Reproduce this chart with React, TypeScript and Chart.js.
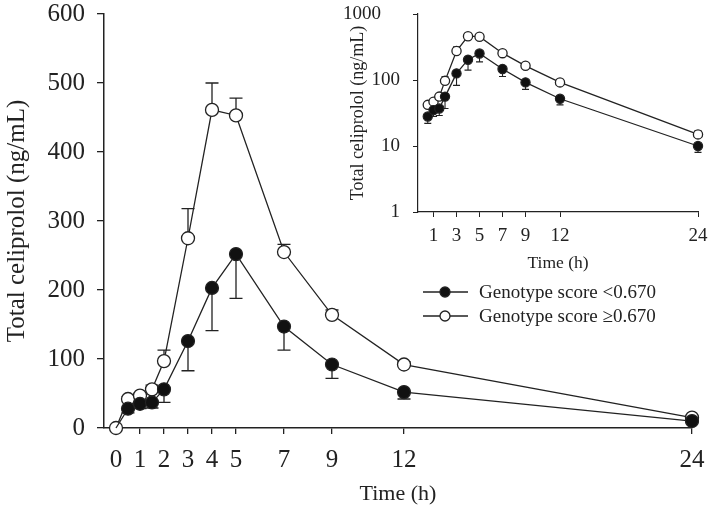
import React, { useEffect, useRef } from 'react';
import { Chart, registerables } from 'chart.js';

Chart.register(...registerables);

// ---- data ----
const times = [0, 0.5, 1, 1.5, 2, 3, 4, 5, 7, 9, 12, 24];
const lowScore = [0, 28, 35, 37, 56, 126, 203, 252, 147, 92, 52, 10];
const lowScoreLower = [0, 22, 28, 29, 37, 83, 141, 188, 113, 72, 42, 8];
const highScore = [0, 42, 47, 56, 97, 275, 461, 453, 255, 164, 92, 15];
const highScoreUpper = [0, 45, 50, 62, 113, 318, 500, 478, 266, 171, 96, 17];

const mainXTicks = [0, 1, 2, 3, 4, 5, 7, 9, 12, 24];
const mainYTicks = [0, 100, 200, 300, 400, 500, 600];
const insetXTicks = [1, 3, 5, 7, 9, 12, 24];
const insetYTicks = [1, 10, 100, 1000];
const seriesLabels = ['Genotype score <0.670', 'Genotype score \u22650.670'];
const xTitle = 'Time (h)';
const yTitle = 'Total celiprolol (ng/mL)';

const FONT = "'Liberation Serif', 'Times New Roman', serif";
const INK = '#222222';

function pts(vals: number[], skipZeroTime: boolean) {
  const out: { x: number; y: number }[] = [];
  times.forEach((t, i) => {
    if (skipZeroTime && t === 0) return;
    out.push({ x: t, y: vals[i] });
  });
  return out;
}
function bounds(vals: number[], skipZeroTime: boolean) {
  const out: number[] = [];
  times.forEach((t, i) => {
    if (skipZeroTime && t === 0) return;
    out.push(vals[i]);
  });
  return out;
}

function errorBarPlugin(cap: number, lw: number) {
  return {
    id: 'errbars',
    beforeDatasetsDraw(chart: any) {
      const ctx = chart.ctx;
      const xs = chart.scales.x;
      const ys = chart.scales.y;
      ctx.save();
      ctx.strokeStyle = INK;
      ctx.lineWidth = lw;
      chart.data.datasets.forEach((ds: any) => {
        (ds.data as any[]).forEach((p: any, i: number) => {
          const b = ds.errBound ? ds.errBound[i] : null;
          if (b == null || b === p.y) return;
          const x = xs.getPixelForValue(p.x);
          const y0 = ys.getPixelForValue(p.y);
          const y1 = ys.getPixelForValue(b);
          ctx.beginPath();
          ctx.moveTo(x, y0);
          ctx.lineTo(x, y1);
          ctx.moveTo(x - cap, y1);
          ctx.lineTo(x + cap, y1);
          ctx.stroke();
        });
      });
      ctx.restore();
    },
  };
}

const legendPlugin = {
  id: 'customLegend',
  afterDraw(chart: any) {
    const ctx = chart.ctx;
    const rows = [292, 316];
    ctx.save();
    chart.data.datasets.forEach((ds: any, i: number) => {
      const y = rows[i];
      ctx.strokeStyle = INK;
      ctx.lineWidth = 1.3;
      ctx.beginPath();
      ctx.moveTo(423, y);
      ctx.lineTo(468, y);
      ctx.stroke();
      ctx.beginPath();
      ctx.arc(445, y, 5, 0, Math.PI * 2);
      ctx.fillStyle = ds.pointBackgroundColor;
      ctx.fill();
      ctx.stroke();
      ctx.fillStyle = INK;
      ctx.font = `19px ${FONT}`;
      ctx.textBaseline = 'middle';
      ctx.textAlign = 'left';
      ctx.fillText(ds.label, 479, y + 1);
    });
    ctx.restore();
  },
};

function makeDatasets(skipZero: boolean, radius: number) {
  return [
    {
      label: seriesLabels[0],
      data: pts(lowScore, skipZero),
      errBound: bounds(lowScoreLower, skipZero),
      borderColor: INK,
      borderWidth: 1.3,
      pointBackgroundColor: '#111111',
      pointBorderColor: INK,
      pointBorderWidth: 1.2,
      pointRadius: (c: any) => (!skipZero && c.dataIndex === 0 ? 0 : radius),
      showLine: true,
      tension: 0,
      clip: false,
    },
    {
      label: seriesLabels[1],
      data: pts(highScore, skipZero),
      errBound: bounds(highScoreUpper, skipZero),
      borderColor: INK,
      borderWidth: 1.3,
      pointBackgroundColor: '#ffffff',
      pointBorderColor: INK,
      pointBorderWidth: 1.3,
      pointRadius: radius,
      showLine: true,
      tension: 0,
      clip: false,
    },
  ];
}

const zeroPad = (s: any) => {
  s.paddingLeft = 0;
  s.paddingRight = 0;
  s.paddingTop = 0;
  s.paddingBottom = 0;
};

export default function App() {
  const mainRef = useRef<HTMLCanvasElement | null>(null);
  const insetRef = useRef<HTMLCanvasElement | null>(null);

  useEffect(() => {
    const main = new Chart(mainRef.current as HTMLCanvasElement, {
      type: 'line',
      data: { datasets: makeDatasets(false, 6.5) as any },
      options: {
        animation: false,
        responsive: false,
        devicePixelRatio: 1,
        layout: { padding: { top: 14, right: 17, left: 0, bottom: 0 } },
        plugins: { legend: { display: false }, tooltip: { enabled: false } },
        scales: {
          x: {
            type: 'linear',
            min: -0.5,
            max: 24,
            afterBuildTicks: (s: any) => {
              s.ticks = mainXTicks.map((v) => ({ value: v }));
            },
            ticks: {
              font: { family: FONT, size: 25 },
              color: INK,
              padding: 11,
              maxRotation: 0,
              autoSkip: false,
              callback: (v: any) => String(v),
            },
            grid: { drawOnChartArea: false, drawTicks: true, tickLength: 6, color: INK, lineWidth: 1.3 },
            border: { display: true, color: INK, width: 1.5 },
            title: { display: true, text: xTitle, font: { family: FONT, size: 22 }, color: INK, padding: { top: 0, bottom: 1 } },
            afterFit: (s: any) => {
              s.height = 80;
              zeroPad(s);
            },
          },
          y: {
            type: 'linear',
            min: 0,
            max: 600,
            afterBuildTicks: (s: any) => {
              s.ticks = mainYTicks.map((v) => ({ value: v }));
            },
            ticks: { font: { family: FONT, size: 25 }, color: INK, padding: 12, callback: (v: any) => String(v) },
            grid: { drawOnChartArea: false, drawTicks: true, tickLength: 7, color: INK, lineWidth: 1.3 },
            border: { display: true, color: INK, width: 1.5 },
            title: { display: true, text: yTitle, font: { family: FONT, size: 25 }, color: INK, padding: { top: 2, bottom: 0 } },
            afterFit: (s: any) => {
              s.width = 104;
              zeroPad(s);
            },
          },
        },
      } as any,
      plugins: [errorBarPlugin(6.5, 1.3), legendPlugin],
    });

    const inset = new Chart(insetRef.current as HTMLCanvasElement, {
      type: 'line',
      data: { datasets: makeDatasets(true, 4.6) as any },
      options: {
        animation: false,
        responsive: false,
        devicePixelRatio: 1,
        layout: { padding: { top: 14, right: 11, left: 0, bottom: 0 } },
        plugins: { legend: { display: false }, tooltip: { enabled: false } },
        scales: {
          x: {
            type: 'linear',
            min: -0.35,
            max: 24,
            afterBuildTicks: (s: any) => {
              s.ticks = insetXTicks.map((v) => ({ value: v }));
            },
            ticks: {
              font: { family: FONT, size: 19 },
              color: INK,
              padding: 8,
              maxRotation: 0,
              autoSkip: false,
              callback: (v: any) => String(v),
            },
            grid: { drawOnChartArea: false, drawTicks: true, tickLength: 5, color: INK, lineWidth: 1 },
            border: { display: true, color: INK, width: 1.2 },
            title: { display: true, text: xTitle, font: { family: FONT, size: 17.5 }, color: INK, padding: { top: 0, bottom: 6 } },
            afterFit: (s: any) => {
              s.height = 68;
              zeroPad(s);
            },
          },
          y: {
            type: 'logarithmic',
            min: 1,
            max: 1000,
            afterBuildTicks: (s: any) => {
              s.ticks = insetYTicks.map((v) => ({ value: v }));
            },
            ticks: {
              font: { family: FONT, size: 19 },
              color: INK,
              padding: 13,
              callback: (v: any) => (v === 1000 ? '1000\u2007\u2007' : String(v)),
            },
            grid: { drawOnChartArea: false, drawTicks: true, tickLength: 5, color: INK, lineWidth: 1 },
            border: { display: true, color: INK, width: 1.2 },
            title: { display: true, text: yTitle, font: { family: FONT, size: 18 }, color: INK, padding: { top: 7, bottom: 0 } },
            afterFit: (s: any) => {
              s.width = 78;
              zeroPad(s);
            },
          },
        },
      } as any,
      plugins: [errorBarPlugin(3.5, 1.1)],
    });

    return () => {
      main.destroy();
      inset.destroy();
    };
  }, []);

  return (
    <div style={{ position: 'fixed', left: 0, top: 0, width: 709, height: 508, background: '#ffffff' }}>
      <canvas ref={mainRef} width={709} height={508} style={{ position: 'absolute', left: 0, top: 0, width: 709, height: 508 }} />
      <canvas ref={insetRef} width={369} height={280} style={{ position: 'absolute', left: 340, top: 0, width: 369, height: 280 }} />
    </div>
  );
}
